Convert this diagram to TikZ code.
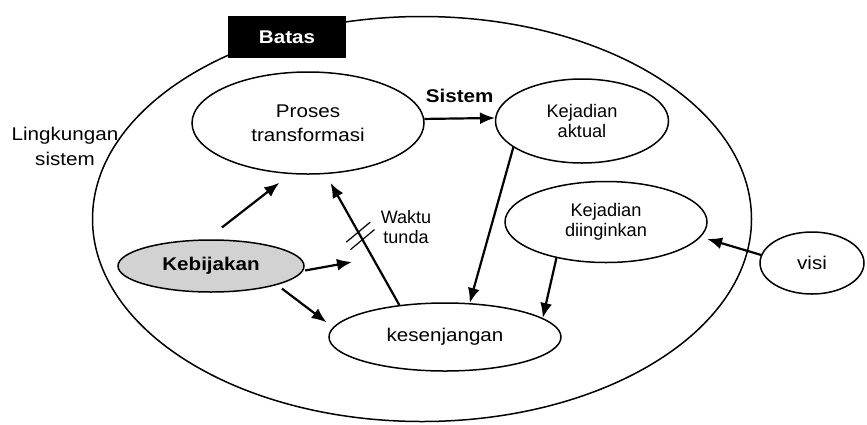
\documentclass[tikz,border=0pt]{standalone}
\usepackage{fontspec}
\setmainfont{Liberation Sans}
\newfontfamily\widefont[FakeStretch=1.12]{Liberation Sans}
\usetikzlibrary{shapes,arrows.meta,positioning,calc}

\begin{document}
\begin{tikzpicture}[
    x=0.5pt,
    y=-0.5pt,
    every node/.style={inner sep=0pt},
    bubble/.style={
        ellipse,
        draw,
        line width=0.75pt,
        align=center,
        font=\widefont\fontsize{9.2}{12}\selectfont
    },
    smallbubble/.style={
        bubble,
        font=\fontsize{9.1}{10}\selectfont
    },
    batasbox/.style={
        rectangle,
        fill=black,
        text=white,
        font=\widefont\bfseries\fontsize{9.2}{12}\selectfont,
        minimum width=59pt,
        minimum height=21pt
    },
    teks/.style={
        align=center,
        font=\widefont\fontsize{9.2}{12.5}\selectfont
    },
    smallteks/.style={
        align=center,
        font=\fontsize{9}{10}\selectfont
    },
    line/.style={
        draw,
        -{Latex[length=7.5pt,width=6pt]},
        line width=1.1pt
    }
]
\useasboundingbox (0,0) rectangle (867,424);

% Nodes
\node [bubble, minimum width=329.5pt, minimum height=202.5pt] (lingkup) at (422,219) {};
\node [batasbox] (batas) at (287,37) {Batas};
\node [bubble, minimum width=116pt, minimum height=51pt] (proses) at (308,123) {Proses\\transformasi};
\node [smallbubble, minimum width=86.5pt, minimum height=42pt] (aktual) at (582,121) {Kejadian\\aktual};
\node [smallbubble, minimum width=101pt, minimum height=40.5pt] (diinginkan) at (606,222) {Kejadian\\diinginkan};
\node [bubble, minimum width=52pt, minimum height=31pt] (visi) at (812,263) {visi};
\node [bubble, fill=gray!35, font=\widefont\bfseries\fontsize{9.2}{12}\selectfont,
       minimum width=93pt, minimum height=26pt] (kebijakan) at (211,266) {Kebijakan};
\node [bubble, minimum width=116pt, minimum height=34pt] (kesenjangan) at (445,337) {kesenjangan};
\node [teks] (lingkungan) at (65,146) {Lingkungan\\sistem};
\node [smallteks] (tunda) at (406,227) {Waktu\\tunda};
\coordinate (tundamasuk) at (352,262);

% Edges
\path [line] (proses.2) -- node [above=7.5pt, font=\widefont\bfseries\fontsize{9.2}{12}\selectfont] {Sistem} (aktual.178);
\path [line, shorten <=9.6pt, shorten >=7pt] (kebijakan.99) -- (proses.251);
\path [line, shorten >=5pt] (kesenjangan.145) -- coordinate [pos=0.5] (tunda1) coordinate [pos=0.557] (tunda2) (proses.289);
\path [line, shorten <=1pt] (kebijakan.357) -- (tundamasuk);
\path [line, shorten <=3pt, shorten >=4pt] (kebijakan.344) -- (kesenjangan.175);
\path [line] (aktual.201) -- (kesenjangan.54);
\path [line] (diinginkan.216) -- (kesenjangan.11);
\path [line, shorten >=3.3pt] (visi.171) -- (diinginkan.351);

% delay marks
\draw [line width=0.6pt] ($(tunda1)+(-12,10)$) -- ($(tunda1)+(12,-10)$);
\draw [line width=0.6pt] ($(tunda2)+(-12,10)$) -- ($(tunda2)+(12,-10)$);

\end{tikzpicture}
\end{document}
